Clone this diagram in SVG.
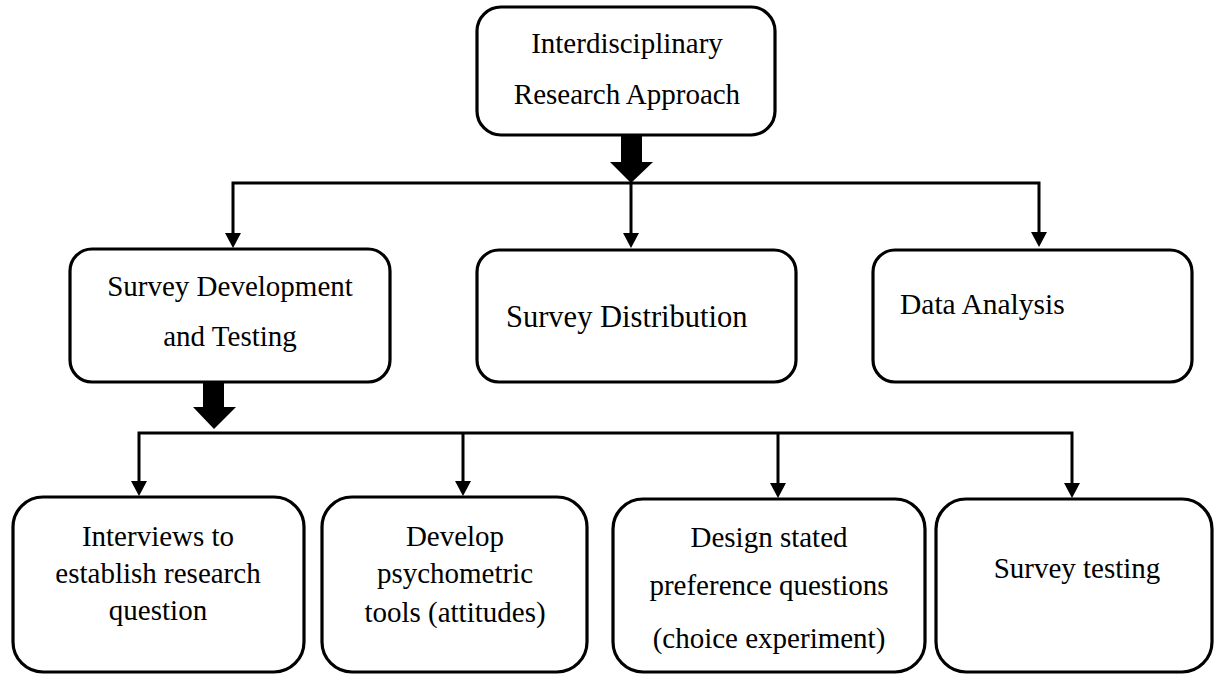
<svg xmlns="http://www.w3.org/2000/svg" width="1214" height="674" viewBox="0 0 1214 674">
  <style>
    .box { fill: #fff; stroke: #000; stroke-width: 3.2; }
    .lbl { font-family: "Liberation Serif", "Times New Roman", serif; font-size: 29px; fill: #000; }
    .mid { text-anchor: middle; }
    .conn { fill: none; stroke: #000; stroke-width: 3; }
    .thick { fill: #000; stroke: none; }
  </style>
  <defs>
    <marker id="ah" markerUnits="userSpaceOnUse" markerWidth="16" markerHeight="16" refX="0" refY="8" orient="auto">
      <path d="M0,0 L15,8 L0,16 z" fill="#000"/>
    </marker>
  </defs>
  <rect width="1214" height="674" fill="#fff"/>

  <g id="connectors">
    <polygon class="thick" points="621,135 642,135 642,162 653,162 631,183 610,162 621,162"/>
    <path class="conn" d="M631,183 H233 V233" marker-end="url(#ah)"/>
    <path class="conn" d="M631,183 V233" marker-end="url(#ah)"/>
    <path class="conn" d="M631,183 H1039 V232" marker-end="url(#ah)"/>
    <polygon class="thick" points="203,382 224,382 224,407 236,407 214,429 193,407 203,407"/>
    <path class="conn" d="M214,433 H139 V481" marker-end="url(#ah)"/>
    <path class="conn" d="M463,433 V481" marker-end="url(#ah)"/>
    <path class="conn" d="M778,433 V483" marker-end="url(#ah)"/>
    <path class="conn" d="M214,433 H1072 V483" marker-end="url(#ah)"/>
  </g>

  <g id="n-approach">
    <rect class="box" x="477" y="7" width="298" height="128" rx="24"/>
    <text class="lbl mid" x="627" y="53">Interdisciplinary</text>
    <text class="lbl mid" x="627" y="104">Research Approach</text>
  </g>
  <g id="n-survey-dev">
    <rect class="box" x="70" y="249" width="320" height="133" rx="22"/>
    <text class="lbl mid" x="230" y="296">Survey Development</text>
    <text class="lbl mid" x="230" y="346">and Testing</text>
  </g>
  <g id="n-survey-dist">
    <rect class="box" x="477" y="250" width="319" height="132" rx="22"/>
    <text class="lbl" x="506" y="327" style="font-size:30.5px">Survey Distribution</text>
  </g>
  <g id="n-data-analysis">
    <rect class="box" x="873" y="250" width="319" height="132" rx="22"/>
    <text class="lbl" x="900" y="314" style="font-size:29.5px">Data Analysis</text>
  </g>
  <g id="n-interviews">
    <rect class="box" x="13" y="497" width="291" height="175" rx="30"/>
    <text class="lbl mid" x="158" y="546">Interviews to</text>
    <text class="lbl mid" x="158" y="583">establish research</text>
    <text class="lbl mid" x="158" y="620">question</text>
  </g>
  <g id="n-psychometric">
    <rect class="box" x="322" y="497" width="265" height="175" rx="30"/>
    <text class="lbl mid" x="455" y="546">Develop</text>
    <text class="lbl mid" x="455" y="583">psychometric</text>
    <text class="lbl mid" x="455" y="622">tools (attitudes)</text>
  </g>
  <g id="n-stated-pref">
    <rect class="box" x="613" y="499" width="312" height="173" rx="30"/>
    <text class="lbl mid" x="769" y="547">Design stated</text>
    <text class="lbl mid" x="769" y="595">preference questions</text>
    <text class="lbl mid" x="769" y="648">(choice experiment)</text>
  </g>
  <g id="n-testing">
    <rect class="box" x="936" y="499" width="276" height="173" rx="30"/>
    <text class="lbl mid" x="1077" y="578">Survey testing</text>
  </g>
</svg>
